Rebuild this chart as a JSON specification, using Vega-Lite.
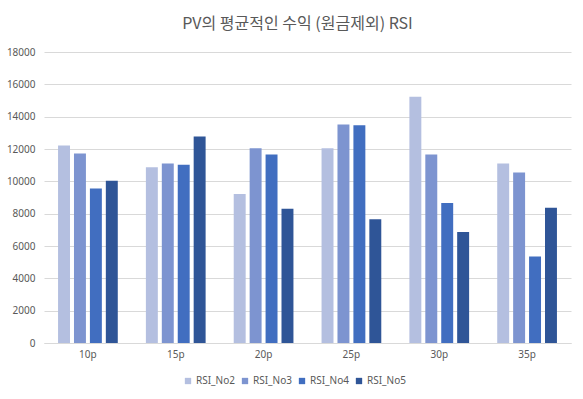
{
  "$schema": "https://vega.github.io/schema/vega-lite/v6.json",
  "autosize": {"type": "none"},
  "width": 527,
  "height": 291,
  "padding": {"left": 44, "top": 52, "right": 12, "bottom": 56},
  "background": "white",
  "title": {
    "text": "PV의 평균적인 수익 (원금제외) RSI",
    "font": "Noto Sans CJK KR",
    "fontSize": 16,
    "fontWeight": "normal",
    "color": "#595959",
    "anchor": "middle",
    "dx": -10,
    "offset": 15
  },
  "data": {
    "values": [
      {"group": "10p", "series": "RSI_No2", "value": 12210},
      {"group": "10p", "series": "RSI_No3", "value": 11720},
      {"group": "10p", "series": "RSI_No4", "value": 9550},
      {"group": "10p", "series": "RSI_No5", "value": 10040},
      {"group": "15p", "series": "RSI_No2", "value": 10870},
      {"group": "15p", "series": "RSI_No3", "value": 11100},
      {"group": "15p", "series": "RSI_No4", "value": 11030},
      {"group": "15p", "series": "RSI_No5", "value": 12770},
      {"group": "20p", "series": "RSI_No2", "value": 9220},
      {"group": "20p", "series": "RSI_No3", "value": 12050},
      {"group": "20p", "series": "RSI_No4", "value": 11660},
      {"group": "20p", "series": "RSI_No5", "value": 8310},
      {"group": "25p", "series": "RSI_No2", "value": 12050},
      {"group": "25p", "series": "RSI_No3", "value": 13510},
      {"group": "25p", "series": "RSI_No4", "value": 13470},
      {"group": "25p", "series": "RSI_No5", "value": 7650},
      {"group": "30p", "series": "RSI_No2", "value": 15230},
      {"group": "30p", "series": "RSI_No3", "value": 11660},
      {"group": "30p", "series": "RSI_No4", "value": 8660},
      {"group": "30p", "series": "RSI_No5", "value": 6860},
      {"group": "35p", "series": "RSI_No2", "value": 11100},
      {"group": "35p", "series": "RSI_No3", "value": 10540},
      {"group": "35p", "series": "RSI_No4", "value": 5350},
      {"group": "35p", "series": "RSI_No5", "value": 8370}
    ]
  },
  "mark": {"type": "bar"},
  "encoding": {
    "x": {
      "field": "group",
      "type": "nominal",
      "sort": null,
      "scale": {"paddingInner": 0.32, "paddingOuter": 0.16},
      "axis": {
        "title": null,
        "labelAngle": 0,
        "labelFont": "Noto Sans",
        "labelFontSize": 10,
        "labelColor": "#595959",
        "labelPadding": 6,
        "ticks": false,
        "domainColor": "#d9d9d9",
        "grid": false
      }
    },
    "xOffset": {
      "field": "series",
      "type": "nominal",
      "scale": {"paddingInner": 0.25, "paddingOuter": 0}
    },
    "y": {
      "field": "value",
      "type": "quantitative",
      "scale": {"domain": [0, 18000], "nice": false},
      "axis": {
        "title": null,
        "values": [0, 2000, 4000, 6000, 8000, 10000, 12000, 14000, 16000, 18000],
        "format": "d",
        "labelFont": "Noto Sans",
        "labelFontSize": 10,
        "labelColor": "#595959",
        "labelPadding": 9,
        "ticks": false,
        "domain": false,
        "gridColor": "#d9d9d9"
      }
    },
    "color": {
      "field": "series",
      "type": "nominal",
      "scale": {
        "domain": ["RSI_No2", "RSI_No3", "RSI_No4", "RSI_No5"],
        "range": ["#b4bfe0", "#7d94d0", "#416ec0", "#2f5597"]
      },
      "legend": {
        "title": null,
        "orient": "none",
        "direction": "horizontal",
        "legendX": 139,
        "legendY": 324,
        "symbolType": "square",
        "symbolSize": 40,
        "symbolStrokeWidth": 0,
        "labelFont": "Noto Sans",
        "labelFontSize": 10,
        "labelColor": "#595959",
        "columnPadding": 5,
        "labelOffset": 3
      }
    }
  },
  "config": {"view": {"stroke": null}}
}
